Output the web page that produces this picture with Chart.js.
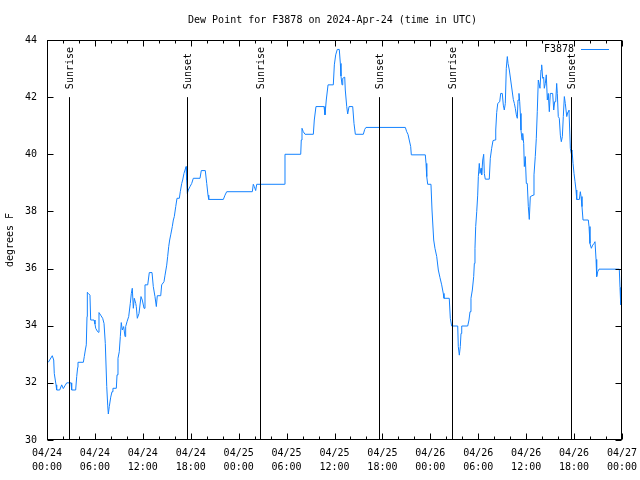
<!DOCTYPE html>
<html>
<head>
<meta charset="utf-8">
<title>Dew Point for F3878</title>
<script src="https://cdn.jsdelivr.net/npm/chart.js@4.4.1/dist/chart.umd.min.js"></script>
<style>
  html, body { margin: 0; padding: 0; background: #fff; }
  #wrap { width: 640px; height: 480px; }
</style>
</head>
<body>
<div id="wrap"><canvas id="dewChart"></canvas></div>
<script>
// hours since 2024-04-24 00:00 UTC
const hours = [
  0.16, 0.66, 0.84, 0.91, 1.13, 1.21, 1.59, 1.84, 2.04, 2.25, 2.47, 3.01, 3.09, 3.59, 3.72, 3.84, 3.88, 4.55, 4.67, 4.80,
  4.92, 5.01, 5.05, 5.17, 5.38, 5.47, 5.89, 6.01, 6.10, 6.30, 6.42, 6.51, 6.72, 6.97, 7.14, 7.30, 7.48, 7.60, 7.68, 7.80,
  7.98, 8.14, 8.26, 8.68, 8.77, 8.89, 9.05, 9.18, 9.30, 9.43, 9.60, 9.77, 9.85, 10.02, 10.23, 10.43, 10.56, 10.68, 10.81, 10.93,
  11.11, 11.18, 11.31, 11.52, 11.77, 11.93, 12.15, 12.27, 12.61, 12.81, 13.15, 13.31, 13.52, 13.69, 13.81, 14.24, 14.36, 14.65, 14.78, 14.99,
  15.11, 15.24, 15.36, 15.49, 15.69, 15.82, 15.94, 16.12, 16.28, 16.57, 16.69, 16.87, 16.99, 17.15, 17.28, 17.41, 17.49, 17.57, 17.69, 17.91,
  18.12, 18.32, 19.16, 19.32, 19.82, 20.00, 20.16, 20.25, 22.08, 22.29, 22.50, 25.71, 25.83, 25.96, 26.13, 26.26, 29.71, 29.80, 31.77, 31.84,
  31.93, 32.09, 32.31, 33.35, 33.47, 33.68, 34.69, 34.81, 34.97, 35.19, 35.85, 35.98, 36.15, 36.35, 36.60, 36.73, 36.81, 36.94, 37.03, 37.28,
  37.35, 37.53, 37.65, 37.82, 38.28, 38.44, 38.61, 39.61, 39.78, 39.94, 44.87, 45.04, 45.20, 45.54, 45.62, 47.37, 47.46, 47.55, 47.67, 48.08,
  48.21, 48.42, 48.58, 48.80, 49.00, 49.21, 49.42, 49.62, 49.71, 50.37, 50.50, 50.67, 51.43, 51.50, 51.63, 51.75, 51.84, 51.93, 52.68, 52.84,
  52.97, 53.09, 53.26, 53.43, 53.51, 53.59, 53.68, 53.81, 53.93, 54.01, 54.13, 54.22, 54.35, 54.43, 54.56, 54.68, 54.76, 54.88, 55.38, 55.51,
  55.68, 55.85, 56.10, 56.19, 56.31, 56.44, 56.69, 56.81, 57.01, 57.14, 57.26, 57.39, 57.51, 57.64, 57.73, 57.89, 58.06, 58.23, 58.39, 58.52,
  58.64, 58.77, 58.89, 58.98, 59.10, 59.19, 59.27, 59.35, 59.48, 59.57, 59.69, 59.77, 59.89, 60.02, 60.14, 60.27, 60.39, 60.52, 60.89, 60.98,
  61.14, 61.27, 61.39, 61.52, 61.73, 61.86, 61.94, 62.07, 62.19, 62.27, 62.40, 62.52, 62.65, 62.77, 62.90, 63.02, 63.32, 63.45, 63.57, 63.70,
  63.82, 63.90, 64.02, 64.15, 64.28, 64.40, 64.53, 64.65, 64.78, 64.90, 65.08, 65.24, 65.36, 65.45, 65.53, 65.65, 65.74, 65.87, 65.99, 66.12,
  66.24, 66.33, 66.66, 66.78, 66.87, 66.99, 67.12, 67.78, 67.87, 67.99, 68.16, 68.33, 68.50, 68.62, 68.75, 68.83, 68.96, 69.12, 71.66, 71.75,
  71.84
];
const dewF = [
  32.72, 32.95, 32.80, 32.33, 31.93, 31.75, 31.75, 31.93, 31.80, 31.90, 32.00, 32.00, 31.75, 31.75, 32.22, 32.54, 32.72, 32.72, 32.92, 33.15,
  33.33, 34.32, 35.17, 35.13, 35.07, 34.20, 34.20, 34.06, 33.91, 33.81, 33.77, 34.46, 34.37, 34.26, 34.08, 33.38, 31.87, 31.22, 30.91, 31.17,
  31.50, 31.69, 31.81, 31.81, 32.28, 32.86, 33.09, 33.62, 34.11, 33.85, 33.97, 33.62, 33.97, 34.14, 34.32, 34.78, 35.13, 35.31, 34.61, 34.96,
  34.78, 34.67, 34.26, 34.43, 35.02, 34.90, 34.61, 35.43, 35.43, 35.86, 35.86, 35.37, 35.02, 34.67, 35.05, 35.05, 35.43, 35.54, 35.77, 36.12,
  36.42, 36.77, 37.00, 37.18, 37.47, 37.70, 37.82, 38.17, 38.46, 38.46, 38.69, 38.98, 39.10, 39.33, 39.45, 39.57, 39.10, 38.63, 38.75, 38.87,
  38.98, 39.16, 39.16, 39.43, 39.43, 38.98, 38.57, 38.42, 38.42, 38.57, 38.69, 38.69, 38.95, 38.87, 38.73, 38.95, 38.95, 40.00, 40.00, 40.50,
  40.91, 40.79, 40.70, 40.70, 41.20, 41.67, 41.67, 41.38, 41.90, 42.43, 42.43, 43.13, 43.48, 43.67, 43.67, 43.18, 42.74, 42.43, 42.66, 42.70,
  42.25, 41.67, 41.41, 41.67, 41.67, 41.08, 40.70, 40.70, 40.87, 40.94, 40.94, 40.79, 40.70, 40.27, 39.98, 39.98, 39.68, 39.22, 38.95, 38.95,
  38.05, 37.00, 36.71, 36.42, 35.95, 35.68, 35.43, 35.13, 34.96, 34.96, 34.26, 33.99, 33.99, 33.27, 32.97, 33.27, 33.73, 33.99, 33.99, 34.20,
  34.49, 34.96, 35.25, 35.72, 36.18, 36.71, 37.47, 37.99, 38.57, 39.22, 39.68, 39.33, 39.51, 39.28, 39.80, 40.00, 39.33, 39.13, 39.13, 39.86,
  40.21, 40.48, 40.50, 40.85, 41.46, 41.78, 41.84, 42.13, 42.13, 41.72, 41.55, 41.78, 43.01, 43.42, 43.18, 42.95, 42.60, 42.25, 41.92, 41.78,
  41.61, 41.38, 41.26, 41.90, 42.13, 41.84, 41.43, 40.85, 40.50, 40.73, 40.38, 39.57, 39.92, 38.98, 38.98, 38.17, 37.72, 38.52, 38.57, 39.28,
  39.92, 40.56, 41.49, 42.60, 42.31, 42.95, 43.13, 42.66, 42.70, 42.31, 42.48, 42.78, 41.90, 42.13, 41.49, 42.13, 42.13, 41.55, 41.84, 41.84,
  42.48, 42.13, 41.32, 41.26, 40.67, 40.44, 40.62, 41.32, 42.02, 41.78, 41.32, 41.49, 41.55, 40.85, 40.21, 40.03, 40.15, 39.68, 39.33, 39.04,
  38.75, 38.42, 38.42, 38.69, 38.52, 38.17, 37.70, 37.70, 37.47, 36.88, 36.71, 36.82, 36.88, 36.94, 36.32, 35.72, 35.89, 35.98, 35.98, 35.34,
  34.73
];
const sunHours = [2.80, 17.57, 26.71, 41.61, 50.71, 65.65];
const sunLabels = ["Sunrise", "Sunset", "Sunrise", "Sunset", "Sunrise", "Sunset"];
const xTickLabels = [
  ["04/24", "00:00"], ["04/24", "06:00"], ["04/24", "12:00"], ["04/24", "18:00"],
  ["04/25", "00:00"], ["04/25", "06:00"], ["04/25", "12:00"], ["04/25", "18:00"],
  ["04/26", "00:00"], ["04/26", "06:00"], ["04/26", "12:00"], ["04/26", "18:00"],
  ["04/27", "00:00"]
];
const stationName = "F3878";
const chartTitle = "Dew Point for F3878 on 2024-Apr-24 (time in UTC)";

const FONT = "'DejaVu Sans Mono', 'Liberation Mono', monospace";
const LINE_COLOR = "rgb(20,130,255)";

// gnuplot look: framed plot, inward ticks on all sides, sun markers, legend top right
const framePlugin = {
  id: "frame",
  afterDatasetsDraw(chart) {
    const { ctx, chartArea: a, scales: { x, y } } = chart;
    ctx.save();
    ctx.strokeStyle = "#000";
    ctx.fillStyle = "#000";
    ctx.lineWidth = 1;
    ctx.font = "10px " + FONT;

    // title is centred over the plot box, not the whole canvas
    ctx.textAlign = "center";
    ctx.textBaseline = "middle";
    ctx.fillText(chartTitle, (a.left + a.right) / 2 - 2, 20);

    sunHours.forEach((h, i) => {
      const px = Math.round(x.getPixelForValue(h)) + 0.5;
      const top = y.getPixelForValue(42);
      ctx.beginPath();
      ctx.moveTo(px, y.getPixelForValue(30));
      ctx.lineTo(px, top);
      ctx.stroke();
      ctx.save();
      ctx.translate(px, top - 8);
      ctx.rotate(-Math.PI / 2);
      ctx.textAlign = "left";
      ctx.textBaseline = "middle";
      ctx.fillText(sunLabels[i], 0, 1);
      ctx.restore();
    });

    const L = Math.round(a.left) + 0.5, R = Math.round(a.right) - 0.5;
    const T = Math.round(a.top) + 0.5, B = Math.round(a.bottom) - 0.5;
    ctx.strokeRect(L, T, R - L, B - T);

    ctx.beginPath();
    for (let h = 0; h <= 72; h += 2) {
      const px = Math.round(x.getPixelForValue(h)) + 0.5;
      const len = h % 6 === 0 ? 6 : 3;
      ctx.moveTo(px, B); ctx.lineTo(px, B - len);
      ctx.moveTo(px, T); ctx.lineTo(px, T + len);
    }
    for (let v = 30; v <= 44; v += 2) {
      const py = Math.round(y.getPixelForValue(v)) + 0.5;
      ctx.moveTo(L, py); ctx.lineTo(L + 6, py);
      ctx.moveTo(R, py); ctx.lineTo(R - 6, py);
    }
    ctx.stroke();

    // legend
    const ly = Math.round(a.top) + 9;
    ctx.textAlign = "right";
    ctx.textBaseline = "middle";
    ctx.fillText(stationName, a.right - 48, ly);
    ctx.strokeStyle = LINE_COLOR;
    ctx.beginPath();
    ctx.moveTo(a.right - 41, ly + 0.5);
    ctx.lineTo(a.right - 13, ly + 0.5);
    ctx.stroke();
    ctx.restore();
  }
};

const monoFont = { family: FONT, size: 10, weight: "normal", lineHeight: 1.2 };

new Chart(document.getElementById("dewChart"), {
  type: "line",
  data: {
    datasets: [{
      label: stationName,
      data: hours.map((h, i) => ({ x: h, y: dewF[i] })),
      borderColor: LINE_COLOR,
      borderWidth: 1,
      pointRadius: 0,
      tension: 0,
      fill: false
    }]
  },
  options: {
    responsive: true,
    maintainAspectRatio: false,
    animation: false,
    layout: { padding: { left: 0, right: 18, top: 40, bottom: 0 } },
    plugins: {
      legend: { display: false },
      tooltip: { enabled: false },
      title: { display: false }
    },
    scales: {
      x: {
        type: "linear",
        min: 0,
        max: 72,
        grid: { display: false, drawTicks: false },
        border: { display: false },
        ticks: {
          stepSize: 6,
          autoSkip: false,
          maxRotation: 0,
          padding: 6,
          color: "#000",
          font: { family: FONT, size: 10, lineHeight: 1.4 },
          callback: v => xTickLabels[v / 6]
        },
        afterFit: s => {
          s.height = 40;
          // labels may overhang the plot edges; keep the plot box fixed
          s.paddingLeft = 0;
          s.paddingRight = 0;
        }
      },
      y: {
        min: 30,
        max: 44,
        grid: { display: false, drawTicks: false },
        border: { display: false },
        ticks: { stepSize: 2, padding: 10, color: "#000", font: monoFont },
        title: {
          display: true,
          text: "degrees F",
          color: "#000",
          font: monoFont,
          padding: { top: 4, bottom: 0 }
        },
        afterFit: s => { s.width = 47; }
      }
    }
  },
  plugins: [framePlugin]
});
</script>
</body>
</html>
